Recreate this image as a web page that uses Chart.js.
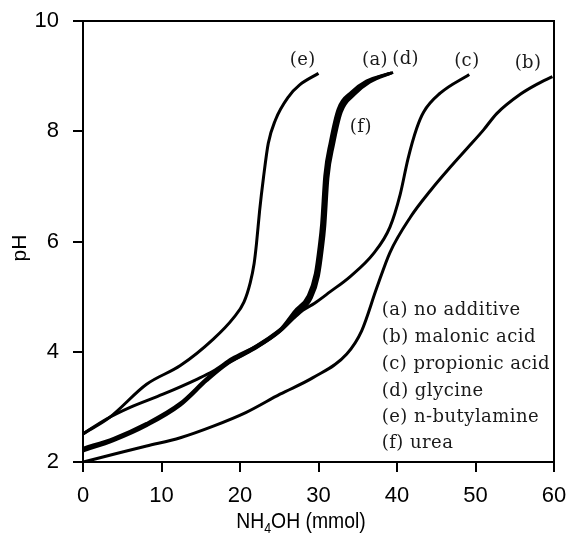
<!DOCTYPE html>
<html><head><meta charset="utf-8">
<script src="https://cdn.jsdelivr.net/npm/chart.js@4/dist/chart.umd.min.js"></script>
<style>html,body{margin:0;padding:0;background:#fff;}</style>
</head><body>
<canvas id="c" width="572" height="536"></canvas>
<script>
// ---- data ----
const xTicks = [0, 10, 20, 30, 40, 50, 60];
const yTicks = [2, 4, 6, 8, 10];
const curveLetters = ['(a)', '(b)', '(c)', '(d)', '(e)', '(f)'];
const legendLines = ['(a) no additive', '(b) malonic acid', '(c) propionic acid', '(d) glycine', '(e) n-butylamine', '(f) urea'];

// (a) no additive
const aX = [0, 3.9, 8.1, 12.4, 15.8, 18.3, 21.7, 25.1, 27.2, 28.9, 29.8, 30.3, 30.6, 31.0, 31.7, 32.7, 34.4, 36.3, 39.3];
const aY = [2.23, 2.41, 2.68, 3.05, 3.50, 3.78, 4.05, 4.38, 4.72, 5.00, 5.40, 5.90, 6.30, 7.17, 7.78, 8.38, 8.69, 8.90, 9.06];
// (b) malonic acid
const bX = [0, 3.9, 8.1, 12.4, 16.6, 20.8, 25.1, 29.3, 33.6, 35.5, 37.4, 39.1, 41.7, 44.3, 46.8, 49.0, 51.0, 52.7, 55.7, 57.8, 59.8];
const bY = [2.0, 2.14, 2.29, 2.44, 2.65, 2.90, 3.23, 3.53, 3.96, 4.38, 5.15, 5.80, 6.44, 6.93, 7.35, 7.70, 8.02, 8.32, 8.67, 8.85, 8.99];
// (c) propionic acid
const cX = [0, 3.0, 6.0, 10.2, 14.5, 16.6, 19.0, 22.0, 25.1, 27.0, 28.0, 29.5, 31.5, 34.0, 37.0, 39.1, 40.4, 41.4, 42.5, 43.4, 45.5, 49.2];
const cY = [2.51, 2.78, 2.99, 3.23, 3.50, 3.65, 3.88, 4.10, 4.40, 4.63, 4.75, 4.88, 5.09, 5.36, 5.78, 6.26, 6.85, 7.50, 8.05, 8.35, 8.69, 9.03];
// (d) glycine
const dX = [0, 3.9, 8.1, 12.4, 15.8, 18.3, 21.7, 25.1, 27.4, 29.1, 30.0, 30.5, 30.8, 31.2, 31.9, 32.9, 34.6, 36.5, 39.5];
const dY = [2.20, 2.39, 2.66, 3.03, 3.48, 3.77, 4.04, 4.37, 4.70, 4.98, 5.38, 5.88, 6.28, 7.15, 7.75, 8.35, 8.67, 8.89, 9.07];
// (e) n-butylamine
const eX = [0, 3.4, 8.1, 12.4, 16.6, 19.2, 20.5, 21.3, 21.8, 22.1, 22.5, 23.0, 23.6, 24.5, 26.2, 27.6, 30.0];
const eY = [2.51, 2.81, 3.41, 3.75, 4.23, 4.62, 4.90, 5.25, 5.60, 5.96, 6.56, 7.17, 7.78, 8.20, 8.63, 8.84, 9.05];
// (f) urea
const fX = [0, 3.9, 8.1, 12.4, 15.8, 18.3, 21.7, 25.1, 27.0, 28.7, 29.6, 30.1, 30.4, 30.8, 31.5, 32.5, 34.2, 36.1, 39.0];
const fY = [2.25, 2.43, 2.70, 3.07, 3.52, 3.80, 4.07, 4.40, 4.74, 5.02, 5.42, 5.92, 6.32, 7.19, 7.80, 8.40, 8.71, 8.91, 9.05];

// label anchors (data coordinates)
const letterX = [37.2, 56.7, 48.9, 41.1, 28.0, 35.4];
const letterY = [9.29, 9.24, 9.26, 9.31, 9.29, 8.08];
const legendX = 38.06;
const legendY = [4.745, 4.26, 3.78, 3.29, 2.81, 2.33];

const pts = (xs, ys) => xs.map((x, i) => ({x: x, y: ys[i]}));
const series = [pts(aX, aY), pts(bX, bY), pts(cX, cY), pts(dX, dY), pts(eX, eY), pts(fX, fY)];

const annot = {
  id: 'annot',
  afterDraw(chart) {
    const ctx = chart.ctx, xs = chart.scales.x, ys = chart.scales.y, ca = chart.chartArea;
    ctx.save();
    ctx.strokeStyle = '#000'; ctx.lineWidth = 2;
    ctx.beginPath();
    ctx.moveTo(ca.left, ca.top); ctx.lineTo(ca.right, ca.top); ctx.lineTo(ca.right, ca.bottom);
    ctx.stroke();
    ctx.fillStyle = '#1a1a1a';
    ctx.font = '18px "DejaVu Serif"';
    try { ctx.letterSpacing = '0.45px'; } catch (e) {}
    ctx.textBaseline = 'middle';
    ctx.textAlign = 'center';
    curveLetters.forEach((t, i) => ctx.fillText(t, xs.getPixelForValue(letterX[i]), ys.getPixelForValue(letterY[i])));
    ctx.textAlign = 'left';
    legendLines.forEach((t, i) => ctx.fillText(t, xs.getPixelForValue(legendX), ys.getPixelForValue(legendY[i])));
    try { ctx.letterSpacing = '0px'; } catch (e) {}
    ctx.fillStyle = '#000';
    ctx.save();
    ctx.translate(20, 248); ctx.rotate(-Math.PI / 2);
    ctx.font = '21px "Liberation Sans"'; ctx.textAlign = 'center';
    ctx.fillText('pH', 0, 0);
    ctx.restore();
    ctx.save();
    const big = '22px "Liberation Sans"', small = '14px "Liberation Sans"';
    const sx = 0.88;
    ctx.font = big; const w1 = ctx.measureText('NH').width; const w3 = ctx.measureText('OH (mmol)').width;
    ctx.font = small; const w2 = ctx.measureText('4').width;
    const total = (w1 + w2 + w3) * sx;
    ctx.translate(301 - total / 2, 522); ctx.scale(sx, 1);
    ctx.textAlign = 'left'; ctx.textBaseline = 'middle';
    ctx.font = big; ctx.fillText('NH', 0, 0);
    ctx.font = small; ctx.fillText('4', w1, 7);
    ctx.font = big; ctx.fillText('OH (mmol)', w1 + w2, 0);
    ctx.restore();
    ctx.restore();
  }
};

const ds = series.map(d => ({
  data: d, borderColor: '#000', borderWidth: 3, pointRadius: 0,
  fill: false, cubicInterpolationMode: 'monotone'
}));

const noPad = s => { s.paddingTop = 0; s.paddingBottom = 0; s.paddingLeft = 0; s.paddingRight = 0; };

new Chart(document.getElementById('c'), {
  type: 'line',
  data: { datasets: ds },
  options: {
    responsive: false, animation: false,
    layout: { padding: { top: 21, right: 18, left: 0, bottom: 0 } },
    plugins: { legend: { display: false }, tooltip: { enabled: false } },
    scales: {
      x: {
        type: 'linear', min: 0, max: 60,
        afterBuildTicks: s => { s.ticks = xTicks.map(v => ({value: v})); },
        afterFit: s => { s.height = 74; noPad(s); },
        grid: { drawOnChartArea: false, tickLength: 10, color: '#000', lineWidth: 2 },
        border: { display: true, color: '#000', width: 2 },
        ticks: { color: '#000', font: { family: 'Liberation Sans', size: 22 }, padding: 11, maxRotation: 0 }
      },
      y: {
        type: 'linear', min: 2, max: 10,
        afterBuildTicks: s => { s.ticks = yTicks.map(v => ({value: v})); },
        afterFit: s => { s.width = 83; noPad(s); },
        grid: { drawOnChartArea: false, tickLength: 10, color: '#000', lineWidth: 2 },
        border: { display: true, color: '#000', width: 2 },
        ticks: { color: '#000', font: { family: 'Liberation Sans', size: 22 }, padding: 14 }
      }
    }
  },
  plugins: [annot]
});
</script>
</body></html>
